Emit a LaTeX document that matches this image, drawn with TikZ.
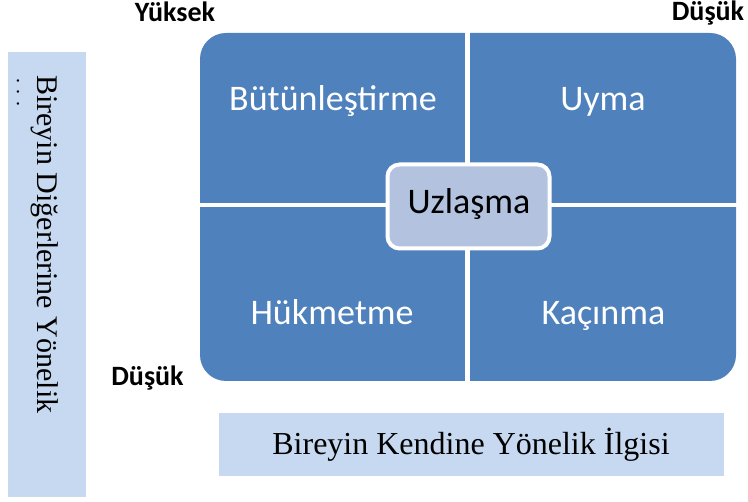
\documentclass[tikz,border=0pt]{standalone}
\usepackage{fontspec}
\setmainfont{Liberation Serif}
\newfontfamily\carl{Carlito}
\definecolor{quadblue}{HTML}{4F81BD}
\definecolor{midblue}{HTML}{B3C3DF}
\definecolor{lightbox}{HTML}{C6D9F1}
\begin{document}
\begin{tikzpicture}[x=1pt,y=-1pt,
  quadtext/.style={text=white,anchor=base,font=\carl\fontsize{36}{40}\selectfont},
  axislabel/.style={anchor=base,font=\carl\bfseries\fontsize{28}{32}\selectfont},
  serifbig/.style={font=\fontsize{30}{34}\selectfont}]
\useasboundingbox (0,0) rectangle (748,502);
% outer quadrants
\fill[quadblue,rounded corners=26pt] (200,33) rectangle (736,381);
\draw[white,line width=5pt] (467.5,30) -- (467.5,384);
\draw[white,line width=4.5pt] (197,205) -- (739,205);
% quadrant texts
\node[quadtext] (tl) at (333,111) {Bütünleştirme};
\node[quadtext] (tr) at (603,111) {Uyma};
\node[quadtext] (bl) at (332,325) {Hükmetme};
\node[quadtext] (br) at (603.5,325) {Kaçınma};
% center
\node[draw=white,line width=4pt,fill=midblue,rounded corners=12pt,
  minimum width=162pt,minimum height=84pt,inner sep=0pt] (mid) at (468.5,206.5) {};
\node[anchor=base,font=\carl\fontsize{36}{40}\selectfont] (midtext) at (469,214) {Uzlaşma};
% axis labels
\node[axislabel] (yuk) at (175,22) {Yüksek};
\node[axislabel] (dusr) at (708,21) {Düşük};
\node[axislabel] (dusl) at (147.5,386) {Düşük};
% bottom box
\fill[lightbox] (219,413) rectangle (724,476);
\node[anchor=base,font=\fontsize{32}{36}\selectfont] (bottom) at (471,455) {Bireyin Kendine Yönelik İlgisi};
% left box
\fill[lightbox] (8,52) rectangle (86,497);
\node[serifbig,rotate=-90,anchor=base west,inner sep=0pt] (left) at (37,75) {Bireyin Diğerlerine Yönelik};
\node[rotate=-90,anchor=base west,inner sep=0pt,font=\fontsize{20}{22}\selectfont] (leftdots) at (17,78) {. . .};
\end{tikzpicture}
\end{document}
